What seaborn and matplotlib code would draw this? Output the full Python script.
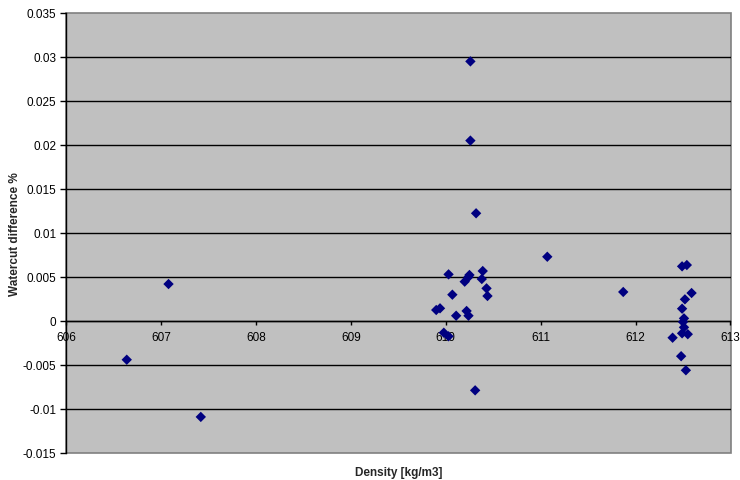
import matplotlib
matplotlib.use("Agg")
import matplotlib.pyplot as plt
import seaborn as sns
import pandas as pd
from matplotlib.patches import Rectangle

density = [606.64, 607.08, 607.42,
           609.90, 609.94, 609.98, 610.03, 610.03, 610.07, 610.11, 610.20, 610.22,
           610.24, 610.24, 610.25, 610.26, 610.26, 610.31, 610.32, 610.38, 610.39,
           610.43, 610.44, 611.07, 611.87,
           612.39, 612.48, 612.49, 612.49, 612.49, 612.50, 612.51, 612.51, 612.52,
           612.53, 612.54, 612.55, 612.59]
watercut_diff = [-0.0044, 0.0042, -0.0109,
                 0.00125, 0.00144, -0.00133, -0.00174, 0.0053, 0.00299, 0.0006, 0.00447, 0.00114,
                 0.0006, 0.0050, 0.00523, 0.0295, 0.0205, -0.00788, 0.01224, 0.00477, 0.00568,
                 0.00371, 0.00284, 0.0073, 0.0033,
                 -0.0019, -0.0040, 0.00621, 0.0014, -0.0014, -0.00011, 0.0003, -0.00072, 0.00246,
                 -0.0056, 0.00636, -0.0015, 0.00318]

x_ticks = [606, 607, 608, 609, 610, 611, 612, 613]
y_ticks = [-0.015, -0.01, -0.005, 0, 0.005, 0.01, 0.015, 0.02, 0.025, 0.03, 0.035]
y_tick_labels = ["-0.015", "-0.01", "-0.005", "0", "0.005", "0.01", "0.015", "0.02", "0.025", "0.03", "0.035"]

df = pd.DataFrame({"Density": density, "Diff": watercut_diff})

sns.set_theme(style="white")
plt.rcParams['font.family'] = ['Liberation Sans', 'DejaVu Sans']

fig = plt.figure(figsize=(7.40, 4.81), dpi=100)
fig.patch.set_facecolor("white")
ax = fig.add_axes([66/740, 27/481, (730.5-66)/740, (454-14)/481])
ax.set_facecolor("#C0C0C0")

for yv in y_ticks[1:-1]:
    ax.axhline(yv, color="black", lw=1.0, zorder=1)

sns.scatterplot(data=df, x="Density", y="Diff", marker="D", color="#000080",
                s=28, edgecolor="none", ax=ax, zorder=3, legend=False)

ax.set_xlim(606, 613)
ax.set_ylim(-0.015, 0.035)
ax.set_xticks(x_ticks)
ax.set_xticklabels([str(t) for t in x_ticks])
ax.set_yticks(y_ticks)
ax.set_yticklabels(y_tick_labels)

for s in ["top", "right"]:
    ax.spines[s].set_visible(False)
ax.spines["left"].set_color("black")
ax.spines["left"].set_linewidth(1.0)
ax.spines["bottom"].set_position(("data", 0))
ax.spines["bottom"].set_color("black")
ax.spines["bottom"].set_linewidth(1.0)
ax.add_patch(Rectangle((0, 0), 1, 1, transform=ax.transAxes, fill=False,
                       edgecolor="#808080", lw=1.2, zorder=0.5, clip_on=False))

ax.tick_params(axis="x", direction="out", length=3, width=1, color="black", pad=4,
               bottom=True, labelcolor="black", labelsize=8.5)
ax.tick_params(axis="y", direction="out", length=4, width=1, color="black", pad=3,
               left=True, labelcolor="black", labelsize=8.5)

ax.set_xlabel("")
ax.set_ylabel("")
fig.text((66+730.5)/2/740, 1 - 473/481, "Density [kg/m3]", ha="center", va="center",
         fontsize=8.5, fontweight="bold")
fig.text(15/740, 1 - 234/481, "Watercut difference %", ha="center", va="center",
         rotation=90, fontsize=8.5, fontweight="bold")

fig.savefig("out.png", dpi=100, facecolor="white")
